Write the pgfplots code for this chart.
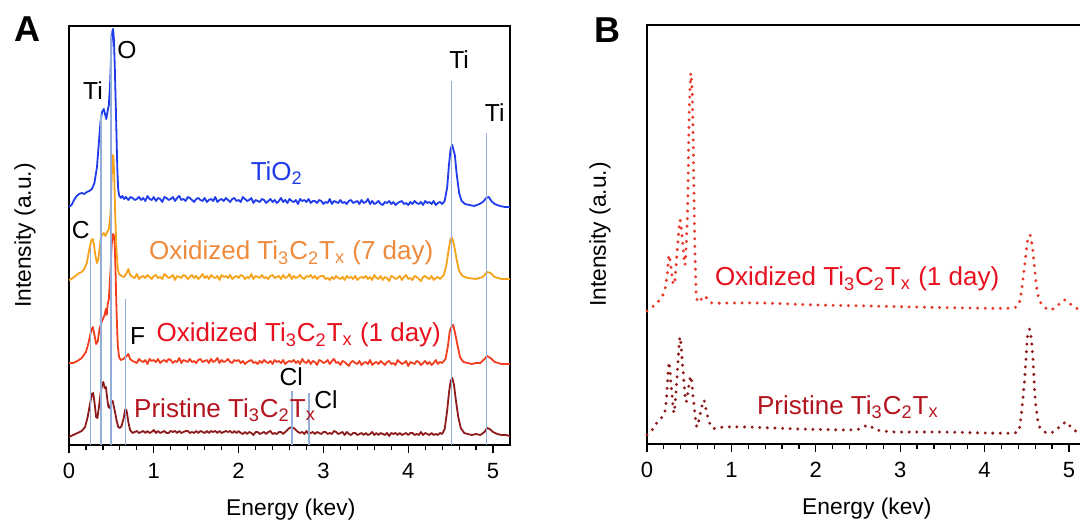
\documentclass[border=0pt]{standalone}
\usepackage{pgfplots}
\pgfplotsset{compat=1.18}
\usepackage{fontspec}
\setmainfont{Liberation Sans}

\definecolor{tioblue}{HTML}{1E3CEB}
\definecolor{sevenor}{HTML}{F7A21B}
\definecolor{seventx}{HTML}{EE8A3C}
\definecolor{oneline}{HTML}{F23D1E}
\definecolor{onetx}{HTML}{E8101E}
\definecolor{prline}{HTML}{8E1B1B}
\definecolor{prtx}{HTML}{B4141E}
\definecolor{refline}{HTML}{94AEDA}
\definecolor{bred}{HTML}{E8382A}

\newcommand{\lbl}{\fontsize{13}{15}\selectfont}
\newcommand{\elm}{\fontsize{12.3}{14}\selectfont}
\newcommand{\TCT}{Ti\textsubscript{3}C\textsubscript{2}T\textsubscript{x}}

\pgfplotsset{
  panel/.style={
    scale only axis, width=220.5pt, height=209.5pt,
    xmin=0, xmax=5.2, ymin=0, ymax=419,
    xtick={0,1,2,3,4,5}, minor x tick num=4, ytick=\empty,
    tick align=outside, xtick pos=left,
    major tick length=4pt, minor tick length=2.5pt,
    every tick/.style={black, line width=0.6pt},
    axis line style={line width=0.8pt},
    /pgf/number format/assume math mode=true,
    ticklabel style={font=\fontsize{11}{13}\selectfont},
    xticklabel style={yshift=-1.5pt},
    label style={font=\fontsize{11.4}{13}\selectfont},
    xlabel={Energy (kev)}, ylabel={Intensity (a.u.)},
    clip=false,
  },
  spec/.style={line width=0.9pt, mark=none, line join=round},
  ref/.style={refline, line width=0.65pt},
  dots/.style={line width=1.65pt, line cap=round, dash pattern=on 0pt off 3.8pt,
    mark=none, smooth, tension=0.4},
}

\begin{document}
\begin{tikzpicture}
\useasboundingbox (0,0) rectangle (540pt,261.5pt);
\clip (0,0) rectangle (540pt,261.5pt);

\node[font=\fontsize{18}{20}\selectfont\bfseries] at (13.5pt,247pt) {A};
\node[font=\fontsize{18}{20}\selectfont\bfseries] at (303.5pt,246.5pt) {B};

% ---------------- Panel A: stacked EDS spectra ----------------
\begin{axis}[panel, at={(34.5pt,39pt)}, anchor=south west,
  xlabel style={at={(axis description cs:0.503,-0.153)}, anchor=center},
  ylabel style={at={(axis description cs:-0.1,0.5)}, anchor=center}]

% pristine Ti3C2Tx
\addplot[spec, prline] table {
E v
0.00 8
0.05 10
0.10 12
0.15 14
0.19 18
0.22 28
0.25 42
0.27 51
0.285 52
0.30 43
0.32 28
0.335 27
0.35 36
0.37 50
0.39 60
0.405 63
0.42 57
0.435 58
0.45 47
0.465 38
0.48 37
0.50 43
0.515 44
0.53 38
0.545 32
0.56 25
0.58 18
0.60 17
0.62 19
0.645 27
0.665 36
0.68 34
0.70 23
0.72 15
0.75 12
0.775 13
0.800 14
0.825 12
0.850 13
0.875 14
0.900 12
0.925 14
0.950 12
0.975 13
1.000 15
1.025 12
1.050 14
1.075 12
1.100 13
1.125 14
1.150 12
1.175 12
1.200 14
1.225 13
1.250 14
1.275 12
1.300 14
1.325 12
1.350 13
1.375 14
1.400 14
1.425 12
1.450 13
1.475 12
1.500 14
1.525 12
1.550 14
1.575 13
1.600 12
1.625 14
1.650 12
1.675 14
1.700 13
1.725 14
1.750 12
1.775 14
1.800 12
1.825 13
1.850 14
1.875 13
1.900 14
1.925 12
1.950 14
1.975 12
2.000 14
2.025 12
2.050 11
2.075 13
2.100 11
2.125 13
2.150 12
2.175 10
2.200 13
2.225 13
2.250 11
2.275 12
2.300 13
2.325 11
2.350 13
2.375 14
2.400 11
2.425 12
2.450 11
2.475 13
2.500 13
2.525 11
2.550 13
2.575 15
2.600 17
2.625 18
2.650 17
2.675 15
2.700 13
2.725 12
2.750 13
2.775 11
2.800 14
2.825 11
2.850 12
2.875 13
2.900 11
2.925 13
2.950 12
2.975 11
3.000 13
3.025 13
3.050 11
3.075 12
3.100 11
3.125 14
3.150 13
3.175 11
3.200 12
3.225 13
3.250 10
3.275 13
3.300 11
3.325 10
3.350 12
3.375 12
3.400 10
3.425 11
3.450 12
3.475 10
3.500 12
3.525 10
3.550 11
3.575 13
3.600 10
3.625 12
3.650 10
3.675 12
3.700 11
3.725 10
3.750 12
3.775 9
3.800 12
3.825 11
3.850 12
3.875 10
3.900 12
3.925 10
3.950 11
3.975 12
4.000 10
4.025 12
4.050 12
4.075 10
4.100 11
4.125 10
4.150 13
4.175 10
4.200 12
4.225 11
4.250 10
4.275 12
4.300 10
4.325 11
4.350 10
4.375 12
4.40 11
4.43 16
4.46 35
4.48 52
4.50 64
4.52 67
4.54 60
4.56 46
4.59 28
4.62 17
4.66 12
4.70 11
4.75 10
4.80 11
4.85 10
4.90 13
4.93 17
4.96 16
5.00 13
5.05 11
5.10 10
5.15 10
5.20 9
};

% oxidized, 1 day
\addplot[spec, oneline] table {
E v
0.00 82
0.05 82
0.10 84
0.15 87
0.20 93
0.23 102
0.26 114
0.28 118
0.30 110
0.32 101
0.34 104
0.36 116
0.38 122
0.40 126
0.42 130
0.435 136
0.445 130
0.455 140
0.47 146
0.49 175
0.50 195
0.51 207
0.52 211
0.53 209
0.54 200
0.55 170
0.56 135
0.575 100
0.59 88
0.61 85
0.64 86
0.68 89
0.70 91
0.72 86
0.75 84
0.775 83
0.800 82
0.825 86
0.850 84
0.875 83
0.900 85
0.925 81
0.950 86
0.975 84
1.000 85
1.025 83
1.050 86
1.075 82
1.100 84
1.125 85
1.150 83
1.175 86
1.200 85
1.225 82
1.250 84
1.275 83
1.300 87
1.325 82
1.350 85
1.375 84
1.400 83
1.425 86
1.450 83
1.475 84
1.500 82
1.525 85
1.550 86
1.575 83
1.600 84
1.625 85
1.650 82
1.675 86
1.700 83
1.725 84
1.750 87
1.775 82
1.800 85
1.825 83
1.850 84
1.875 86
1.900 83
1.925 82
1.950 85
1.975 84
2.000 85
2.025 82
2.050 84
2.075 81
2.100 83
2.125 84
2.150 85
2.175 82
2.200 83
2.225 81
2.250 84
2.275 82
2.300 85
2.325 83
2.350 82
2.375 84
2.400 81
2.425 85
2.450 83
2.475 84
2.500 82
2.525 85
2.550 81
2.575 83
2.600 84
2.625 83
2.650 85
2.675 82
2.700 84
2.725 81
2.750 86
2.775 83
2.800 82
2.825 85
2.850 81
2.875 84
2.900 83
2.925 80
2.950 85
2.975 84
3.000 82
3.025 83
3.050 85
3.075 81
3.100 84
3.125 86
3.150 82
3.175 83
3.200 80
3.225 84
3.250 83
3.275 81
3.300 79
3.325 83
3.350 84
3.375 82
3.400 81
3.425 84
3.450 80
3.475 82
3.500 83
3.525 81
3.550 85
3.575 80
3.600 82
3.625 83
3.650 81
3.675 84
3.700 82
3.725 80
3.750 83
3.775 84
3.800 81
3.825 82
3.850 80
3.875 85
3.900 83
3.925 81
3.950 82
3.975 84
4.000 79
4.025 83
4.050 82
4.075 81
4.100 84
4.125 83
4.150 80
4.175 82
4.200 84
4.225 81
4.250 83
4.275 80
4.300 82
4.325 85
4.350 81
4.375 83
4.40 82
4.44 86
4.47 100
4.49 114
4.51 118
4.53 120
4.55 113
4.58 100
4.61 88
4.65 83
4.70 82
4.75 81
4.80 82
4.85 82
4.90 86
4.93 89
4.97 87
5.02 83
5.10 81
5.20 81
};

% oxidized, 7 days
\addplot[spec, sevenor] table {
E v
0.00 165
0.03 166
0.06 168
0.09 170
0.12 172
0.15 173
0.18 176
0.21 182
0.24 196
0.265 205
0.28 206
0.295 200
0.31 190
0.33 182
0.345 185
0.36 196
0.375 207
0.39 210
0.41 212
0.43 209
0.45 213
0.47 216
0.49 232
0.505 270
0.515 290
0.525 288
0.535 265
0.545 230
0.56 195
0.575 176
0.59 171
0.62 169
0.65 168
0.68 172
0.70 176
0.72 170
0.75 168
0.775 167
0.800 171
0.825 166
0.850 168
0.875 169
0.900 167
0.925 170
0.950 168
0.975 166
1.000 169
1.025 170
1.050 167
1.075 168
1.100 166
1.125 171
1.150 169
1.175 167
1.200 168
1.225 170
1.250 165
1.275 169
1.300 168
1.325 167
1.350 170
1.375 169
1.400 166
1.425 168
1.450 170
1.475 167
1.500 169
1.525 166
1.550 168
1.575 171
1.600 167
1.625 169
1.650 166
1.675 170
1.700 168
1.725 167
1.750 169
1.775 165
1.800 170
1.825 168
1.850 169
1.875 167
1.900 170
1.925 166
1.950 168
1.975 169
2.000 167
2.025 170
2.050 169
2.075 166
2.100 168
2.125 167
2.150 171
2.175 166
2.200 169
2.225 168
2.250 167
2.275 170
2.300 167
2.325 168
2.350 166
2.375 169
2.400 170
2.425 167
2.450 168
2.475 169
2.500 166
2.525 170
2.550 167
2.575 168
2.600 171
2.625 166
2.650 169
2.675 167
2.700 168
2.725 170
2.750 167
2.775 166
2.800 169
2.825 168
2.850 170
2.875 167
2.900 169
2.925 166
2.950 168
2.975 169
3.000 169
3.025 166
3.050 167
3.075 165
3.100 168
3.125 166
3.150 169
3.175 167
3.200 166
3.225 168
3.250 165
3.275 169
3.300 167
3.325 168
3.350 166
3.375 169
3.400 165
3.425 167
3.450 168
3.475 167
3.500 169
3.525 166
3.550 168
3.575 165
3.600 170
3.625 167
3.650 166
3.675 169
3.700 165
3.725 168
3.750 167
3.775 164
3.800 169
3.825 168
3.850 166
3.875 167
3.900 169
3.925 165
3.950 168
3.975 170
4.000 166
4.025 167
4.050 165
4.075 169
4.100 168
4.125 166
4.150 164
4.175 168
4.200 169
4.225 167
4.250 166
4.275 169
4.300 165
4.325 167
4.350 168
4.375 166
4.42 170
4.45 180
4.48 197
4.50 206
4.52 207
4.54 200
4.57 186
4.60 174
4.64 169
4.70 167
4.80 166
4.88 168
4.93 173
4.97 172
5.02 168
5.10 166
5.20 166
};

% TiO2
\addplot[spec, tioblue] table {
E v
0.00 238
0.03 240
0.06 245
0.09 249
0.12 251
0.15 252
0.18 251
0.21 253
0.24 254
0.27 256
0.30 262
0.33 278
0.35 300
0.37 322
0.39 333
0.41 336
0.425 331
0.44 326
0.455 334
0.47 340
0.485 362
0.50 400
0.51 413
0.52 416
0.53 405
0.54 378
0.55 345
0.56 310
0.57 275
0.58 256
0.59 250
0.61 247
0.63 249
0.65 246
0.67 248
0.70 245
0.725 248
0.75 247
0.775 245
0.800 246
0.825 248
0.850 245
0.875 247
0.900 244
0.925 249
0.950 246
0.975 245
1.000 248
1.025 244
1.050 247
1.075 246
1.100 243
1.125 248
1.150 247
1.175 245
1.200 246
1.225 248
1.250 244
1.275 247
1.300 249
1.325 245
1.350 246
1.375 244
1.400 248
1.425 247
1.450 245
1.475 243
1.500 246
1.525 247
1.550 245
1.575 244
1.600 247
1.625 243
1.650 245
1.675 246
1.700 244
1.725 248
1.750 243
1.775 245
1.800 246
1.825 244
1.850 247
1.875 245
1.900 243
1.925 246
1.950 247
1.975 244
2.000 245
2.025 243
2.050 248
2.075 246
2.100 244
2.125 245
2.150 247
2.175 242
2.200 245
2.225 244
2.250 243
2.275 246
2.300 245
2.325 242
2.350 244
2.375 246
2.400 243
2.425 245
2.450 242
2.475 244
2.500 247
2.525 243
2.550 245
2.575 242
2.600 246
2.625 244
2.650 243
2.675 245
2.700 241
2.725 246
2.750 244
2.775 245
2.800 243
2.825 246
2.850 242
2.875 244
2.900 244
2.925 242
2.950 245
2.975 244
3.000 241
3.025 243
3.050 242
3.075 246
3.100 241
3.125 244
3.150 243
3.175 242
3.200 245
3.225 242
3.250 243
3.275 241
3.300 244
3.325 245
3.350 242
3.375 243
3.400 244
3.425 241
3.450 245
3.475 242
3.500 243
3.525 246
3.550 241
3.575 244
3.600 241
3.625 242
3.650 244
3.675 241
3.700 240
3.725 243
3.750 242
3.775 244
3.800 241
3.825 243
3.850 240
3.875 242
3.900 243
3.925 244
3.950 241
3.975 242
4.000 240
4.025 243
4.050 241
4.075 244
4.100 242
4.125 241
4.150 243
4.175 240
4.200 244
4.225 242
4.250 243
4.275 241
4.300 244
4.325 240
4.350 242
4.375 243
4.40 241
4.43 244
4.46 258
4.48 280
4.50 296
4.52 300
4.53 296
4.55 290
4.57 272
4.60 252
4.63 244
4.67 241
4.72 240
4.78 239
4.84 241
4.88 243
4.92 247
4.95 248
4.98 244
5.02 241
5.08 239
5.14 238
5.20 238
};

% emission line markers
\addplot[ref] coordinates {(0.256,0) (0.256,198)};
\addplot[ref] coordinates {(0.377,0) (0.377,331)};
\addplot[ref] coordinates {(0.495,0) (0.495,410)};
\addplot[ref] coordinates {(0.664,0) (0.664,146)};
\addplot[ref] coordinates {(2.63,0) (2.63,54)};
\addplot[ref] coordinates {(2.83,0) (2.83,52)};
\addplot[ref] coordinates {(4.51,0) (4.51,364)};
\addplot[ref] coordinates {(4.92,0) (4.92,312)};

% element labels
\node[font=\elm] at (axis cs:0.283,354) {Ti};
\node[font=\elm] at (axis cs:0.684,395) {O};
\node[font=\elm] at (axis cs:4.60,385) {Ti};
\node[font=\elm] at (axis cs:5.02,332) {Ti};
\node[font=\elm] at (axis cs:0.14,215) {C};
\node[font=\elm] at (axis cs:0.81,109) {F};
\node[font=\elm] at (axis cs:2.62,68) {Cl};
\node[font=\elm] at (axis cs:3.03,45) {Cl};

% sample labels
\node[font=\lbl, text=tioblue] at (axis cs:2.45,272) {TiO\textsubscript{2}};
\node[font=\lbl, text=seventx] at (axis cs:2.62,192) {Oxidized \TCT{} (7 day)};
\node[font=\lbl, text=onetx] at (axis cs:2.71,110) {Oxidized \TCT{} (1 day)};
\node[font=\lbl, text=prtx] at (axis cs:1.84,35) {Pristine \TCT};
\end{axis}

% ---------------- Panel B: smoothed spectra ----------------
\begin{axis}[panel, at={(323.5pt,39.5pt)}, anchor=south west, width=219.4pt,
  xlabel style={at={(axis description cs:0.501,-0.153)}, anchor=center},
  ylabel style={at={(axis description cs:-0.107,0.5)}, anchor=center}]

\addplot[dots, bred] table {
E v
0.00 133
0.05 136
0.115 141
0.17 146
0.21 154
0.24 170
0.26 189
0.28 180
0.31 160
0.33 163
0.36 195
0.39 224
0.42 205
0.45 179
0.48 230
0.50 330
0.52 371
0.54 340
0.56 230
0.58 155
0.60 142
0.63 143
0.66 147
0.69 148
0.72 144
0.77 141
1.00 141
1.38 141
2.00 139
2.60 138
3.16 137
3.80 136
4.34 136
4.42 144
4.47 175
4.51 203
4.54 209
4.57 195
4.60 170
4.63 150
4.68 139
4.77 134
4.85 137
4.92 143
4.97 144
5.03 139
5.13 134
5.20 133
};

\addplot[dots, prline] table {
E v
0.00 9
0.06 14
0.115 21
0.17 26
0.21 31
0.235 50
0.26 82
0.285 60
0.32 31
0.35 60
0.39 107
0.42 80
0.46 42
0.49 55
0.52 68
0.55 45
0.59 17
0.63 30
0.675 44
0.71 30
0.77 16
0.90 17
1.18 17
1.80 15
2.37 14
2.52 15
2.62 19
2.72 14
2.95 12
3.50 12
4.34 11
4.42 20
4.47 60
4.51 108
4.54 114
4.57 90
4.60 45
4.64 20
4.68 14
4.74 11
4.82 12
4.90 18
4.97 22
5.04 15
5.13 11
5.20 10
};

\node[font=\lbl, text=onetx] at (axis cs:2.49,165) {Oxidized \TCT{} (1 day)};
\node[font=\lbl, text=prtx] at (axis cs:2.38,37) {Pristine \TCT};
\end{axis}
\end{tikzpicture}
\end{document}
